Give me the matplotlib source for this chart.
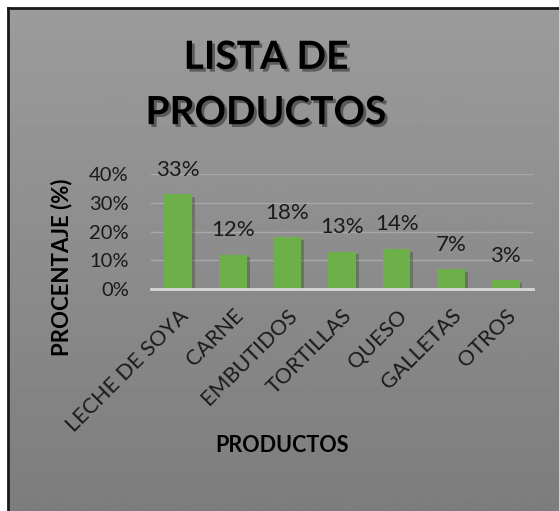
import matplotlib.pyplot as plt
import matplotlib.patheffects as pe
import numpy as np

categorias = ["LECHE DE SOYA", "CARNE", "EMBUTIDOS", "TORTILLAS", "QUESO", "GALLETAS", "OTROS"]
porcentajes = [33, 12, 18, 13, 14, 7, 3]
ticks_y = [0, 10, 20, 30, 40]

plt.rcParams['font.family'] = ['Lato', 'DejaVu Sans']

W, H = 559, 511
fig = plt.figure(figsize=(W / 100, H / 100), dpi=100)
fig.patch.set_facecolor("white")

# fondo gris con degradado
bg = fig.add_axes([8 / W, 0, 1 - 8 / W, 1 - 8 / H])
grad = np.linspace(0.61, 0.49, 256).reshape(-1, 1)
bg.imshow(grad, aspect="auto", cmap="gray", vmin=0, vmax=1, extent=[0, 1, 0, 1])
bg.set_xticks([])
bg.set_yticks([])
for s in ["right", "bottom"]:
    bg.spines[s].set_visible(False)
for s in ["left", "top"]:
    bg.spines[s].set_color("#1a1a1a")
    bg.spines[s].set_linewidth(2)

ax = fig.add_axes([151 / W, 1 - 289 / H, (533 - 151) / W, 115 / H])
ax.set_facecolor("none")
x = np.arange(len(categorias))
barras = ax.bar(x, porcentajes, width=0.51, color="#6db04a", zorder=3)
for b in barras:
    b.set_path_effects([pe.SimplePatchShadow(offset=(2, -2), alpha=0.3), pe.Normal()])

for xi, v in zip(x, porcentajes):
    ax.text(xi, v + 5, f"{v}%", ha="center", va="bottom", fontsize=16, color="#1a1a1a")

ax.set_ylim(0, 40)
ax.set_xlim(-0.5, len(categorias) - 0.5)
ax.set_yticks(ticks_y)
ax.set_yticklabels([f"{t}%" for t in ticks_y], fontsize=14.5, color="#1a1a1a")
ax.yaxis.grid(True, color="#a8a8a8", linewidth=1, zorder=0)
ax.set_xticks(x)
ax.set_xticklabels(categorias, rotation=45, ha="right", rotation_mode="anchor",
                   fontsize=15.5, color="#1a1a1a")
ax.tick_params(length=0)
ax.tick_params(axis="y", pad=16)
ax.tick_params(axis="x", pad=12)
for s in ["left", "right", "top"]:
    ax.spines[s].set_visible(False)
ax.spines["bottom"].set_color("#d9d9d9")
ax.spines["bottom"].set_linewidth(2)
ax.spines["bottom"].set_zorder(4)

fig.text(62 / W, 1 - 267 / H, "PROCENTAJE (%)", rotation=90, ha="center", va="center",
         fontsize=16, fontweight="bold", color="black")
fig.text(282 / W, 1 - 445 / H, "PRODUCTOS", ha="center", va="center",
         fontsize=15.5, fontweight="bold", color="black")

fig.text(266 / W, 1 - 85 / H, "LISTA DE\nPRODUCTOS", ha="center", va="center",
         fontsize=28, fontweight="bold", color="black", linespacing=1.7,
         path_effects=[pe.withSimplePatchShadow(offset=(2, -2), alpha=0.4)])

fig.savefig("out.png", dpi=100)
